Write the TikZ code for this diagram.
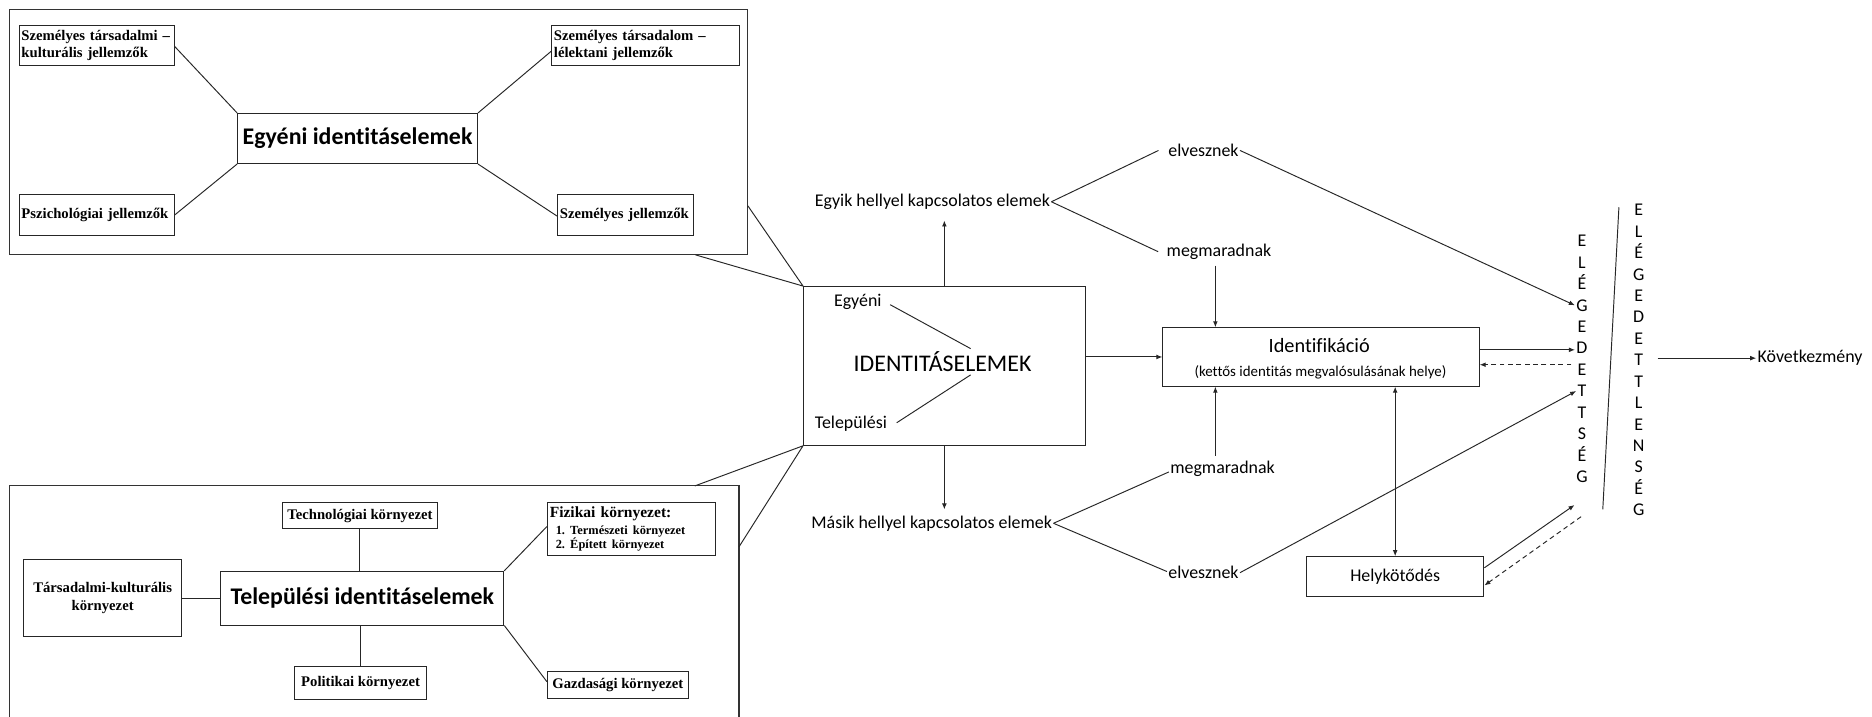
\documentclass[tikz,border=0pt]{standalone}
\usepackage{fontspec}
\setmainfont{Carlito}[Ligatures=NoCommon]
\newfontfamily\tnr{Liberation Serif}
\usetikzlibrary{arrows.meta,calc}
\frenchspacing
\begin{document}
\begin{tikzpicture}[x=1pt,y=-1pt,
  ln/.style={draw=black!85, line width=0.8pt},
  arr/.style={ln, -{Latex[length=5pt,width=4pt]}},
  darr/.style={arr, dash pattern=on 4pt off 3pt},
  frame/.style={draw=black!80, line width=0.9pt},
  sbox/.style={draw=black!85, line width=0.8pt, inner xsep=2pt, inner ysep=0pt, font=\tnr\bfseries\fontsize{12.3}{14}\selectfont},
  bigbox/.style={draw=black!85, line width=0.8pt, inner sep=0pt, font=\bfseries\fontsize{20}{24}\selectfont},
  plainbox/.style={draw=black!85, line width=0.8pt, inner sep=0pt},
  sans/.style={inner sep=1pt, font=\fontsize{15}{18}\selectfont},
  letter/.style={inner sep=1pt, anchor=base, font=\fontsize{15}{18}\selectfont},
]
\path[use as bounding box, fill=white] (0,0) rectangle (1568,600);

% ---------- top frame ----------
\node[frame, minimum width=618pt, minimum height=205pt, inner sep=0pt] (topf) at (317,110.5) {};
\node[sbox, minimum width=130pt, minimum height=34pt, text width=126pt, align=left] (a1) at (81,38) {Személyes társadalmi –\\kulturális jellemzők};
\node[sbox, minimum width=157pt, minimum height=34pt, text width=153pt, align=left] (a2) at (540.5,38) {Személyes társadalom –\\lélektani jellemzők};
\node[bigbox, minimum width=201pt, minimum height=42pt] (ec) at (299.5,116) {Egyéni identitáselemek};
\node[sbox, minimum width=130pt, minimum height=34pt, text width=126pt, align=left] (a3) at (81,180) {Pszichológiai jellemzők};
\node[sbox, minimum width=114pt, minimum height=34pt, text width=110pt, align=left] (a4) at (524,180) {Személyes jellemzők};
\draw[ln] ($(a1.east)+(0,1)$) -- (ec.north west);
\draw[ln] ($(a2.west)+(0,5)$) -- (ec.north east);
\draw[ln] (ec.south west) -- (a3.east);
\draw[ln] (ec.south east) -- ($(a4.west)+(0,1)$);

% ---------- bottom frame ----------
\draw[frame] (8,601) |- (619,407) -- (619,601);
\coordinate (bf1) at (582,407);
\coordinate (bf2) at (619,458);
\node[sbox, minimum width=130pt, minimum height=22pt] (tech) at (301.5,432) {Technológiai környezet};
\node[sbox, minimum width=141pt, minimum height=44pt, text width=137pt, align=left, font=\tnr\bfseries\fontsize{13}{11.2}\selectfont] (fiz) at (529,443) {Fizikai környezet:\\[3pt]\hspace*{5pt}{\fontsize{10.4}{11.2}\selectfont 1. Természeti környezet}\\\hspace*{5pt}{\fontsize{10.4}{11.2}\selectfont 2. Épített környezet}};
\node[sbox, minimum width=132pt, minimum height=64pt, align=center, font=\tnr\bfseries\fontsize{12.3}{15.3}\selectfont] (tars) at (86,501) {Társadalmi-kulturális\\környezet};
\node[bigbox, minimum width=237pt, minimum height=45pt] (ti) at (303.5,501) {Települési identitáselemek};
\node[sbox, minimum width=110pt, minimum height=27pt] (pol) at (302,572) {Politikai környezet};
\node[sbox, minimum width=118pt, minimum height=22.5pt] (gaz) at (517.5,574) {Gazdasági környezet};
\draw[ln] (tech.south) -- (tech.south |- ti.north);
\draw[ln] (pol.north) -- (pol.north |- ti.south);
\draw[ln] (tars.east) -- (tars.east -| ti.west);
\draw[ln] (ti.north east) -- ($(fiz.west)+(0,-2)$);
\draw[ln] (ti.south east) -- ($(gaz.west)+(0,-3)$);

% ---------- central box ----------
\node[plainbox, minimum width=236pt, minimum height=133pt] (id) at (791,306.5) {};
\node[inner sep=0pt, font=\fontsize{20}{24}\selectfont] (idt) at (789.5,303) {IDENTITÁSELEMEK};
\node[sans] (egy) at (718.5,253.2) {Egyéni};
\node[sans] (tel) at (712.7,355.1) {Települési};
\draw[ln] ($(egy.east)+(6,2)$) -- ($(idt.center)+(23.5,-11)$);
\draw[ln] ($(idt.center)+(23.5,11)$) -- ($(tel.east)+(7,-1)$);
\coordinate (tf1) at ($(topf.south east)+(0,-41)$);
\coordinate (tf2) at ($(topf.south east)+(-44,0)$);
\draw[ln] (tf1) -- (id.north west) -- (tf2);
\draw[ln] (bf1) -- (id.south west) -- (bf2);

% ---------- upper branch ----------
\node[sans] (egyik) at (781,169) {Egyik hellyel kapcsolatos elemek};
\node[sans] (elv1) at (1008,126) {elvesznek};
\node[sans] (meg1) at (1021,210.8) {megmaradnak};
\draw[ln] (egyik.east) -- ($(elv1.west)+(-7,0)$);
\draw[ln] (egyik.east) -- ($(meg1.west)+(-6,0)$);
\coordinate (eu) at (egyik.south -| id.north);
\draw[arr] (id.north) -- ($(eu)+(0,8)$);

% ---------- identification ----------
\node[plainbox, minimum width=265pt, minimum height=49pt] (ident) at (1106.5,299) {};
\node[inner sep=0pt, font=\fontsize{17}{20}\selectfont] (identa) at (1105,289) {Identifikáció};
\node[inner sep=0pt, font=\fontsize{12.5}{15}\selectfont] (identb) at (1106,312) {(kettős identitás megvalósulásának helye)};
\draw[arr] (id.east |- ident.west) -- (ident.west);
\coordinate (m1bot) at ($(meg1.south)+(-3,4)$);
\draw[arr] (m1bot) -- (m1bot |- ident.north);

% ---------- lower branch ----------
\node[sans] (masik) at (780.4,438.3) {Másik hellyel kapcsolatos elemek};
\node[sans] (meg2) at (1024,392.3) {megmaradnak};
\node[sans] (elv2) at (1008,479.7) {elvesznek};
\coordinate (ms) at (masik.north -| id.south);
\draw[arr] (id.south) -- ($(ms)+(0,-4)$);
\draw[ln] (masik.east) -- ($(meg2.west)+(0,3)$);
\draw[ln] (masik.east) -- ($(elv2.west)+(0,-1)$);
\coordinate (m2top) at ($(meg2.north)+(-6,-3)$);
\draw[arr] (m2top) -- (m2top |- ident.south);

% ---------- satisfaction columns ----------
\foreach \l [count=\i] in {E,L,É,G,E,D,E,T,T,S,É,G}
  \node[letter] (s\i) at (1325,{206.7+17.95*(\i-1)}) {\l};
\foreach \l [count=\i] in {E,L,É,G,E,D,E,T,T,L,E,N,S,É,G}
  \node[letter] (t\i) at (1372.6,{180.7+17.95*(\i-1)}) {\l};
\coordinate (sl1) at (1356,173.6);
\coordinate (sl2) at (1342.5,426.6);
\draw[ln] (sl1) -- (sl2);

\draw[arr] (elv1.east) -- (s4.west);
\draw[arr] (elv2.east) -- (s8.west);
\draw[arr] ([yshift=6pt]ident.east) -- ([yshift=6pt]ident.east -| s6.west);
\coordinate (db) at ([yshift=-6.5pt]ident.east -| s7.west);
\draw[darr] ($(db)+(-4,0)$) -- ([yshift=-6.5pt]ident.east);

\node[sans, anchor=west] (kov) at (1471,300) {Következmény};
\coordinate (kstart) at (kov.west -| t8.east);
\draw[arr] ($(kstart)+(11,0)$) -- (kov.west);

% ---------- place attachment ----------
\node[plainbox, minimum width=148.7pt, minimum height=33.5pt, font=\fontsize{15}{18}\selectfont] (hely) at (1168.6,483) {Helykötődés};
\draw[ln, {Latex[length=5pt,width=4pt]}-{Latex[length=5pt,width=4pt]}] (hely.north |- ident.south) -- (hely.north);
\coordinate (sb1) at (1318.8,423);
\coordinate (sb2) at (1324.3,432.8);
\draw[arr] ($(hely.north east)+(0,9.7)$) -- (sb1);
\draw[darr] (sb2) -- ($(hely.south east)+(0,-9.8)$);
\end{tikzpicture}
\end{document}
